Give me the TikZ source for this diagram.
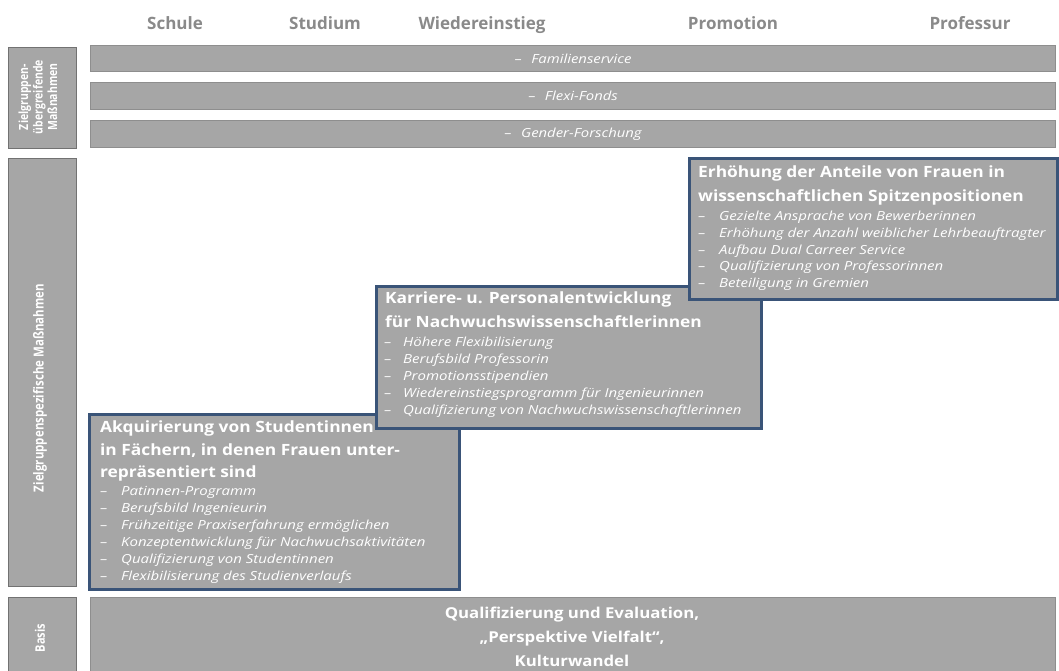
\documentclass[tikz,border=0pt]{standalone}
\usepackage{fontspec}
\setmainfont{Open Sans}
\definecolor{boxgray}{HTML}{A6A6A6}
\definecolor{boxblue}{HTML}{3A5478}
\definecolor{hdrgray}{HTML}{8A8A8A}
\definecolor{edgegray}{HTML}{8E8E8E}
\newcommand{\sx}[2]{\scalebox{#1}[1]{#2}}
\newcommand{\sy}[2]{\scalebox{1}[#1]{#2}}
\tikzset{
  hdr/.style={text=hdrgray, font=\fontsize{17}{20}\selectfont\bfseries, inner sep=0, anchor=base},
  bar/.style={draw=edgegray, line width=1.2pt, fill=boxgray, anchor=north west, inner sep=0,
    text=white, font=\fontsize{12.5}{15}\selectfont\itshape},
  lbl/.style={draw=edgegray!80!black, line width=1.2pt, fill=boxgray, anchor=north west, inner sep=0},
  lbltext/.style={rotate=90, text=white, align=center, inner sep=0},
  bigbox/.style={draw=boxblue, line width=2.5pt, fill=boxgray, anchor=north west, inner sep=0},
  ttl/.style={anchor=base west, inner sep=0, text=white, font=\fontsize{15.5}{18}\selectfont\bfseries},
  itm/.style={anchor=base west, inner sep=0, text=white, font=\fontsize{12.5}{15}\selectfont\itshape},
}
\begin{document}
\begin{tikzpicture}[x=1pt,y=-1pt]
\useasboundingbox (0,0) rectangle (1059,670);
\fill[white] (0,0) rectangle (1059,670);
% headers
\node[hdr] (h1) at (175,29) {Schule};
\node[hdr] (h2) at (325,29) {Studium};
\node[hdr] (h3) at (482,29) {Wiedereinstieg};
\node[hdr] (h4) at (733,29) {Promotion};
\node[hdr] (h5) at (970,29) {Professur};
% left labels
\node[lbl, minimum width=68pt, minimum height=101pt] (l1) at (8,47) {};
\node[lbltext, font=\fontsize{10.5}{14.5}\selectfont\bfseries] (l1t) at (38,97)
  {\sy{1.2}{Zielgruppen-}\\\sy{1.2}{übergreifende}\\\sy{1.2}{Maßnahmen}};
\node[lbl, minimum width=68pt, minimum height=428pt] (l2) at (8,158) {};
\node[lbltext, font=\fontsize{11.5}{14}\selectfont\bfseries] (l2t) at (40,388) {\sy{1.2}{Zielgruppenspezifische Maßnahmen}};
\node[lbl, minimum width=68pt, minimum height=80pt] (l3) at (8,597) {};
\node[lbltext, font=\fontsize{11}{14}\selectfont\bfseries] (l3t) at (40,638) {\sy{1.2}{Basis}};
% bars
\node[bar, minimum width=965pt, minimum height=26pt] (b1) at (90,45) {\sx{1.19}{–\hspace{8pt}Familienservice}};
\node[bar, minimum width=965pt, minimum height=27pt] (b2) at (90,82) {\sx{1.19}{–\hspace{8pt}Flexi-Fonds}};
\node[bar, minimum width=965pt, minimum height=27pt] (b3) at (90,120) {\sx{1.19}{–\hspace{8pt}Gender-Forschung}};
% basis
\node[bar, minimum width=965pt, minimum height=80pt] (b4) at (90,597) {};
\node[text=white, align=center, inner sep=0, font=\fontsize{15}{24}\selectfont\bfseries] (b4t) at (572,637)
  {\sx{1.12}{Qualifizierung und Evaluation,}\\\sx{1.12}{„Perspektive Vielfalt“,}\\\sx{1.12}{Kulturwandel}};
% box A
\node[bigbox, minimum width=370pt, minimum height=175pt] (A) at (88,413) {};
\foreach \t [count=\i] in {Akquirierung von Studentinnen, {in Fächern, in denen Frauen unter-}, repräsentiert sind}
  \node[ttl] (At\i) at (100,{427+22.5*(\i-1)+5.5}) {\sx{1.12}{\t}};
\foreach \t [count=\i] in {Patinnen-Programm, Berufsbild Ingenieurin, Frühzeitige Praxiserfahrung ermöglichen,
  Konzeptentwicklung für Nachwuchsaktivitäten, Qualifizierung von Studentinnen, Flexibilisierung des Studienverlaufs}{
  \node[itm] (Ad\i) at (100,{491+17*(\i-1)+4.5}) {\sx{1.2}{–}};
  \node[itm] (Ai\i) at (121,{491+17*(\i-1)+4.5}) {\sx{1.2}{\t}};
}
% box B
\node[bigbox, minimum width=385pt, minimum height=142pt] (B) at (375,285) {};
\foreach \t [count=\i] in {Karriere- u. Personalentwicklung, für Nachwuchswissenschaftlerinnen}
  \node[ttl] (Bt\i) at (385,{298+24*(\i-1)+5.5}) {\sx{1.12}{\t}};
\foreach \t [count=\i] in {Höhere Flexibilisierung, Berufsbild Professorin, Promotionsstipendien,
  Wiedereinstiegsprogramm für Ingenieurinnen, Qualifizierung von Nachwuchswissenschaftlerinnen}{
  \node[itm] (Bd\i) at (384,{342+17*(\i-1)+4.5}) {\sx{1.2}{–}};
  \node[itm] (Bi\i) at (403,{342+17*(\i-1)+4.5}) {\sx{1.2}{\t}};
}
% box C
\node[bigbox, minimum width=368pt, minimum height=141pt] (C) at (688,157) {};
\foreach \t [count=\i] in {Erhöhung der Anteile von Frauen in, wissenschaftlichen Spitzenpositionen}
  \node[ttl] (Ct\i) at (698,{172+24*(\i-1)+5.5}) {\sx{1.12}{\t}};
\foreach \t [count=\i] in {Gezielte Ansprache von Bewerberinnen, Erhöhung der Anzahl weiblicher Lehrbeauftragter,
  Aufbau Dual Carreer Service, Qualifizierung von Professorinnen, Beteiligung in Gremien}{
  \node[itm] (Cd\i) at (698,{216+16.8*(\i-1)+4.5}) {\sx{1.2}{–}};
  \node[itm] (Ci\i) at (719,{216+16.8*(\i-1)+4.5}) {\sx{1.2}{\t}};
}
\end{tikzpicture}
\end{document}
